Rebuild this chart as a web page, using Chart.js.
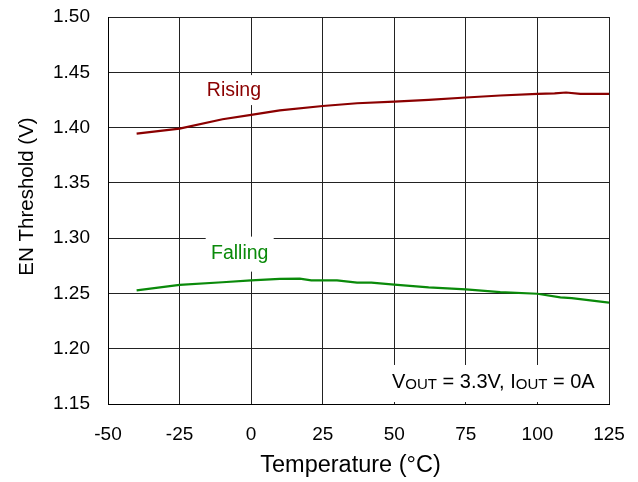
<!DOCTYPE html>
<html>
<head>
<meta charset="utf-8">
<script src="https://cdn.jsdelivr.net/npm/chart.js@4/dist/chart.umd.min.js"></script>
<style>
  html, body { margin: 0; padding: 0; background: #fff; }
  #wrap { width: 638px; height: 482px; }
</style>
</head>
<body>
<div id="wrap"><canvas id="en_chart"></canvas></div>
<script>
const temps = [-40, -25, -10, 0, 10, 25, 37, 50, 62, 75, 87, 100, 106, 110, 115, 125];
const rising = [1.3945, 1.399, 1.4075, 1.4115, 1.4155, 1.4195, 1.422, 1.4235, 1.425, 1.4272, 1.429, 1.4305, 1.431, 1.4317, 1.4305, 1.4305];

const fallTemps = [-40, -25, -10, 0, 10, 17, 21, 30, 37, 42, 50, 62, 75, 87, 100, 108, 112, 125];
const falling = [1.2527, 1.2577, 1.2601, 1.2618, 1.2631, 1.2633, 1.2618, 1.2618, 1.2597, 1.2597, 1.258, 1.2555, 1.2536, 1.2512, 1.2497, 1.2465, 1.2458, 1.2416];

const xTicks = [-50, -25, 0, 25, 50, 75, 100, 125];
const yTicks = [1.15, 1.20, 1.25, 1.30, 1.35, 1.40, 1.45, 1.50];

const toPoints = (xs, ys) => xs.map((x, i) => ({ x: x, y: ys[i] }));

const font = "Liberation Sans, Arial, sans-serif";

// labels, condition box and axis titles, placed through the scales
const notes = {
  id: "notes",
  beforeDatasetsDraw(chart) {
    const { ctx, scales } = chart;
    const x = scales.x, y = scales.y;
    ctx.save();
    ctx.fillStyle = "#fff";
    // white boxes behind series labels
    let px = x.getPixelForValue(-6), py = y.getPixelForValue(1.433);
    ctx.fillRect(px - 34, py - 16, 68, 30);
    px = x.getPixelForValue(-4);
    py = y.getPixelForValue(1.286);
    ctx.fillRect(px - 34, py - 17, 68, 35);
    // condition box
    const bx = x.getPixelForValue(46.5), by = y.getPixelForValue(1.1853);
    ctx.fillRect(bx, by, x.getPixelForValue(124.3) - bx, chart.chartArea.bottom - 2 - by);
    ctx.restore();
  },
  afterDatasetsDraw(chart) {
    const { ctx, scales, chartArea } = chart;
    const x = scales.x, y = scales.y;
    ctx.save();
    ctx.textAlign = "center";
    ctx.textBaseline = "middle";
    ctx.font = "19.5px " + font;
    ctx.fillStyle = "#8b0000";
    ctx.fillText("Rising", x.getPixelForValue(-6), y.getPixelForValue(1.433));
    ctx.fillStyle = "#0a8a0a";
    ctx.fillText("Falling", x.getPixelForValue(-4), y.getPixelForValue(1.286));

    // V_OUT = 3.3V, I_OUT = 0A
    ctx.fillStyle = "#000";
    ctx.textAlign = "left";
    ctx.textBaseline = "alphabetic";
    const parts = [
      ["V", 20, 0], ["OUT", 15, 1], [" = 3.3V, I", 20, 0], ["OUT", 15, 1], [" = 0A", 20, 0],
    ];
    let tx = x.getPixelForValue(49.2);
    const ty = y.getPixelForValue(1.1645);
    parts.forEach(([t, size, sub]) => {
      ctx.font = size + "px " + font;
      ctx.fillText(t, tx, ty + sub);
      tx += ctx.measureText(t).width;
    });

    // x axis title
    ctx.textAlign = "center";
    ctx.font = "23.5px " + font;
    ctx.fillText("Temperature (°C)", (chartArea.left + chartArea.right) / 2 - 8, 472);

    // y axis title
    ctx.translate(27, (chartArea.top + chartArea.bottom) / 2 - 14);
    ctx.rotate(-Math.PI / 2);
    ctx.textBaseline = "middle";
    ctx.font = "20.5px " + font;
    ctx.fillText("EN Threshold (V)", 0, 0);
    ctx.restore();
  },
};

new Chart(document.getElementById("en_chart").getContext("2d"), {
  type: "line",
  data: {
    datasets: [
      {
        label: "Rising",
        data: toPoints(temps, rising),
        borderColor: "#8b0000",
        borderWidth: 2.2,
        pointRadius: 0,
        tension: 0,
      },
      {
        label: "Falling",
        data: toPoints(fallTemps, falling),
        borderColor: "#0a8a0a",
        borderWidth: 2.2,
        pointRadius: 0,
        tension: 0,
      },
    ],
  },
  options: {
    responsive: true,
    maintainAspectRatio: false,
    animation: false,
    layout: { padding: { top: 17, right: 29, left: 0, bottom: 0 } },
    plugins: { legend: { display: false }, tooltip: { enabled: false } },
    scales: {
      x: {
        type: "linear",
        min: -50,
        max: 125,
        afterBuildTicks: (s) => { s.ticks = xTicks.map((v) => ({ value: v })); },
        afterFit: (s) => {
          s.height = 78;
          s.paddingLeft = 0;
          s.paddingRight = 0;
        },
        grid: { color: "#222", lineWidth: 1, drawTicks: false },
        border: { color: "#000", width: 1 },
        ticks: { color: "#000", font: { family: font, size: 19 }, padding: 19 },
      },
      y: {
        min: 1.15,
        max: 1.5,
        afterBuildTicks: (s) => { s.ticks = yTicks.map((v) => ({ value: v })); },
        afterFit: (s) => {
          s.width = 108;
          s.paddingTop = 0;
          s.paddingBottom = 0;
        },
        grid: { color: "#222", lineWidth: 1, drawTicks: false },
        border: { color: "#000", width: 1 },
        ticks: {
          color: "#000",
          font: { family: font, size: 19 },
          padding: 18,
          callback: (v) => v.toFixed(2),
        },
      },
    },
  },
  plugins: [notes],
});
</script>
</body>
</html>
